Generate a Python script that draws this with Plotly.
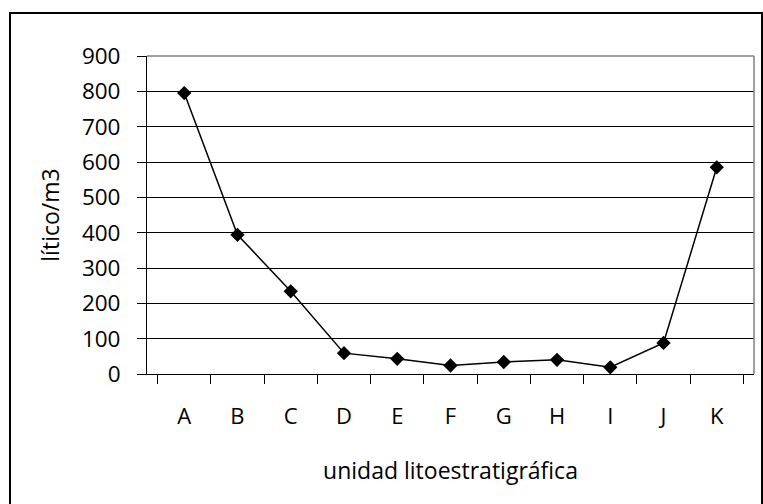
import plotly.graph_objects as go

categories = ["A", "B", "C", "D", "E", "F", "G", "H", "I", "J", "K"]
values = [795, 394, 234, 59, 43, 24, 34, 40, 19, 88, 585]
y_ticks = [0, 100, 200, 300, 400, 500, 600, 700, 800, 900]

FONT = "Open Sans"

fig = go.Figure()
fig.add_trace(go.Scatter(
    x=categories, y=values, mode="lines+markers",
    line=dict(color="black", width=1.5),
    marker=dict(symbol="diamond", size=11, color="black"),
    showlegend=False,
))

L, R, T, B = 147, 9, 56, 130
W, H = 763, 504
pw, ph = W - L - R, H - T - B

def px_x(x):
    return (x - L) / pw

def px_y(y):
    return (H - B - y) / ph

fig.update_layout(
    width=W, height=H,
    margin=dict(l=L, r=R, t=T, b=B, pad=0),
    paper_bgcolor="white", plot_bgcolor="white",
    font=dict(family=FONT, size=20, color="black"),
    xaxis=dict(
        type="category", tickson="boundaries",
        ticks="outside", ticklen=9, tickcolor="black", tickwidth=1,
        showline=True, linecolor="black", linewidth=1,
        showgrid=False, ticklabelstandoff=23,
        tickfont=dict(size=22),
        title=dict(text="unidad litoestratigráfica", standoff=33, font=dict(size=23)),
    ),
    yaxis=dict(
        range=[0, 900], tickvals=y_ticks,
        ticks="outside", ticklen=9, tickcolor="black", tickwidth=1,
        showline=True, linecolor="black", linewidth=1,
        showgrid=True, gridcolor="black", gridwidth=1,
        zeroline=False, ticklabelstandoff=12,
        tickfont=dict(size=22.5),
        title=dict(text="lítico/m3", standoff=15, font=dict(size=23)),
    ),
    shapes=[
        dict(type="line", xref="paper", yref="paper", x0=0, x1=1, y0=1, y1=1,
             line=dict(color="#808080", width=1.5)),
        dict(type="line", xref="paper", yref="paper", x0=1, x1=1, y0=0, y1=1,
             line=dict(color="#808080", width=1.5)),
        dict(type="rect", xref="paper", yref="paper",
             x0=px_x(10), x1=px_x(762), y0=px_y(13), y1=px_y(520),
             line=dict(color="black", width=2), fillcolor="rgba(0,0,0,0)"),
    ],
)

fig.write_html("out.html", config={"displayModeBar": False},
               post_script="document.body.style.margin='0';")
